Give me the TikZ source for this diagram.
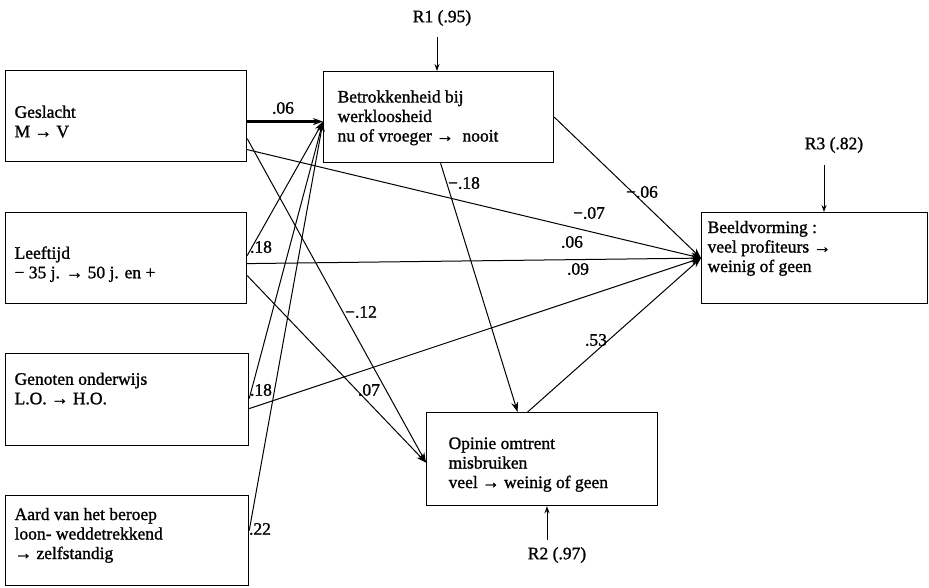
\documentclass[tikz,border=0pt]{standalone}
\usepackage{fontspec}
\setmainfont{Liberation Serif}[FakeBold=1.2]
\usetikzlibrary{arrows.meta}
\newcommand\bxtext[3]{\makebox[#1][l]{\raisebox{#2}[\height][\depth]{\begin{tabular}{@{}l@{}}#3\end{tabular}}}}
\begin{document}
\begin{tikzpicture}[x=1pt,y=-1pt,
  font=\fontsize{17.5}{19.5}\selectfont,
  box/.style={draw, line width=1.2pt, rectangle, inner sep=0pt, anchor=north west},
  conn/.style={line width=1pt, -{Stealth[length=10pt,width=7pt]}},
  rconn/.style={line width=1pt, -{Stealth[length=7pt,width=5pt]}},
  lbl/.style={inner sep=0pt},
]
\useasboundingbox (0,0) rectangle (929,588);

% boxes
\node[box, minimum width=241pt, minimum height=91pt] (g) at (5,70)
  {\bxtext{223pt}{-7.5pt}{Geslacht\\M → V}};
\node[box, minimum width=241pt, minimum height=91pt] (l) at (5,212)
  {\bxtext{223pt}{-6.5pt}{Leeftijd\\− 35 j. → 50 j. en +}};
\node[box, minimum width=243pt, minimum height=92pt] (o) at (5,353)
  {\bxtext{225pt}{9pt}{Genoten onderwijs\\L.O. → H.O.}};
\node[box, minimum width=243pt, minimum height=90pt] (a) at (5,495)
  {\bxtext{225pt}{5pt}{Aard van het beroep\\loon- weddetrekkend\\→ zelfstandig}};
\node[box, minimum width=230pt, minimum height=91pt] (b) at (323,71)
  {\bxtext{202pt}{-1pt}{Betrokkenheid bij\\werkloosheid\\nu of vroeger →\ \ nooit}};
\node[box, minimum width=226pt, minimum height=91pt] (v) at (701,212)
  {\bxtext{214pt}{9.5pt}{Beeldvorming :\\veel profiteurs →\\weinig of geen}};
\node[box, minimum width=231pt, minimum height=93pt] (p) at (426,412)
  {\bxtext{187pt}{-5.5pt}{Opinie omtrent\\misbruiken\\veel → weinig of geen}};

% residual labels
\node[lbl] (r1) at (442,18) {R1 (.95)};
\node[lbl] (r3) at (834,145) {R3 (.82)};
\node[lbl] (r2) at (557,555) {R2 (.97)};
\coordinate (r1a) at (437,37);
\coordinate (r3a) at (824,165);
\coordinate (r2a) at (547,540);
\draw[rconn] (r1a) -- (b.north -| r1a);
\draw[rconn] (r3a) -- (v.north -| r3a);
\draw[rconn] (r2a) -- (p.south -| r2a);

% connectors
\draw[conn, line width=2.2pt] ([yshift=-5.5pt]g.east) -- ([yshift=-4.5pt]b.west);
\draw[conn] ([yshift=-33.5pt]g.east) -- (v.west);
\draw[conn] ([yshift=-22.5pt]g.east) -- ([yshift=-3.5pt]p.west);
\draw[conn] ([yshift=2.5pt]l.east) -- ([yshift=-4.5pt]b.west);
\draw[conn] ([yshift=-5.5pt]l.east) -- (v.west);
\draw[conn] ([yshift=-17.5pt]l.east) -- ([yshift=-3.5pt]p.west);
\draw[conn] ([yshift=1pt]o.east) -- ([yshift=-4.5pt]b.west);
\draw[conn] ([yshift=-9pt]o.east) -- (v.west);
\draw[conn] ([yshift=10pt]a.east) -- ([yshift=-4.5pt]b.west);
\draw[conn] (b.east) -- (v.west);
\draw[conn] ([xshift=2pt]b.south) -- ([xshift=-24.5pt]p.north);
\draw[conn] ([xshift=-14.5pt]p.north) -- (v.west);

% coefficients
\node[lbl] (c1) at (283,108) {.06};
\node[lbl] (c2) at (261,247) {.18};
\node[lbl] (c3) at (261,390) {.18};
\node[lbl] (c4) at (260,529) {.22};
\node[lbl] (c5) at (361,312) {−.12};
\node[lbl] (c6) at (369,390) {.07};
\node[lbl] (c7) at (464,183) {−.18};
\node[lbl] (c8) at (642,192) {−.06};
\node[lbl] (c9) at (589,213) {−.07};
\node[lbl] (c10) at (572,242) {.06};
\node[lbl] (c11) at (578,269) {.09};
\node[lbl] (c12) at (596,340) {.53};
\end{tikzpicture}
\end{document}
